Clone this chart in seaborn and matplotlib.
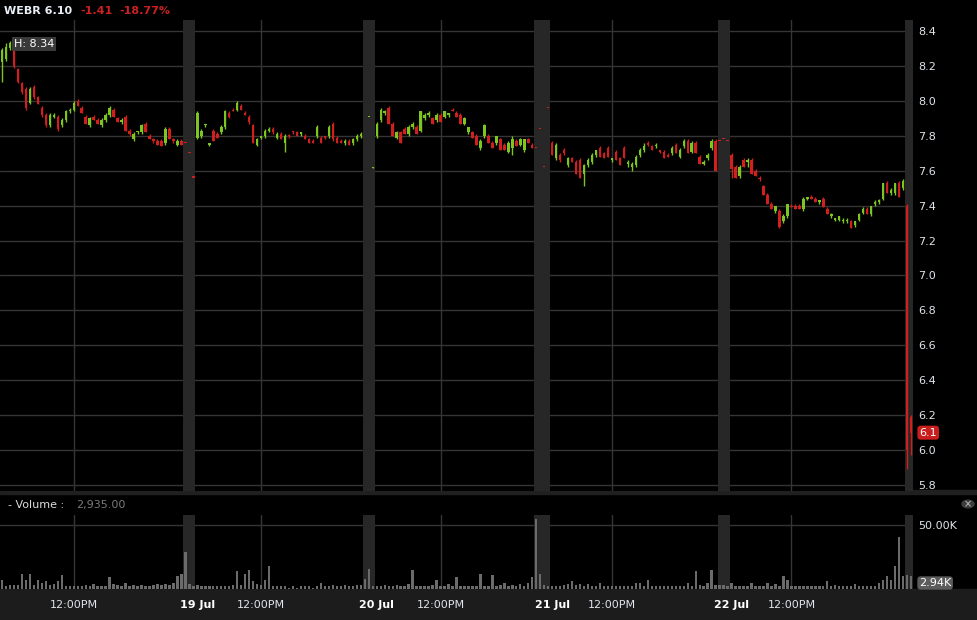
import numpy as np
import pandas as pd
import matplotlib
matplotlib.use("Agg")
import matplotlib.pyplot as plt
import matplotlib.transforms as mtrans
import seaborn as sns
from matplotlib.patches import Rectangle, Circle

# bars: (open, high, low, close); volume in thousands
jul18 = [(8.22, 8.30, 8.11, 8.29), (8.24, 8.33, 8.23, 8.31), (8.30, 8.34, 8.29, 8.33), (8.31, 8.32, 8.19, 8.20),
         (8.18, 8.19, 8.10, 8.11), (8.10, 8.11, 8.04, 8.05), (8.07, 8.08, 7.95, 7.96), (7.99, 8.08, 7.98, 8.07),
         (8.08, 8.09, 8.01, 8.02), (8.02, 8.03, 7.98, 7.98), (7.96, 7.97, 7.91, 7.92), (7.92, 7.93, 7.85, 7.86),
         (7.86, 7.93, 7.85, 7.92), (7.91, 7.93, 7.90, 7.92), (7.91, 7.92, 7.83, 7.84), (7.86, 7.90, 7.85, 7.89),
         (7.89, 7.95, 7.88, 7.94), (7.94, 7.96, 7.93, 7.95), (7.95, 8.00, 7.94, 7.99), (8.00, 8.01, 7.97, 7.97),
         (7.96, 7.97, 7.93, 7.93), (7.91, 7.92, 7.87, 7.87), (7.86, 7.91, 7.85, 7.90), (7.91, 7.92, 7.89, 7.89),
         (7.89, 7.90, 7.87, 7.87), (7.86, 7.90, 7.85, 7.89), (7.89, 7.93, 7.88, 7.92), (7.92, 7.97, 7.91, 7.96),
         (7.95, 7.96, 7.91, 7.91), (7.90, 7.91, 7.88, 7.88), (7.88, 7.90, 7.87, 7.89), (7.91, 7.92, 7.83, 7.83),
         (7.83, 7.84, 7.80, 7.81), (7.78, 7.82, 7.77, 7.81), (7.82, 7.83, 7.81, 7.83), (7.82, 7.87, 7.81, 7.86),
         (7.87, 7.88, 7.82, 7.82), (7.80, 7.81, 7.78, 7.78), (7.78, 7.79, 7.76, 7.77), (7.77, 7.78, 7.75, 7.75),
         (7.77, 7.78, 7.74, 7.74), (7.76, 7.85, 7.75, 7.84), (7.84, 7.85, 7.78, 7.78), (7.78, 7.79, 7.76, 7.77),
         (7.75, 7.78, 7.74, 7.77), (7.77, 7.78, 7.75, 7.75)]
vol18 = [7, 2, 3, 3, 3, 12, 7, 12, 3, 7, 5, 6, 3, 4, 6, 11, 2, 2, 2, 2, 2, 3, 2, 4, 2, 2, 2, 9, 4, 3,
         2, 5, 2, 3, 2, 3, 2, 2, 3, 4, 3, 4, 3, 5, 10, 12]

ext1 = [(7.76, 7.76, 7.76, 7.76), (7.70, 7.70, 7.70, 7.70), (7.56, 7.56, 7.56, 7.56)]
ext1_vol = [29, 4, 2]

jul19 = [(7.79, 7.94, 7.78, 7.93), (7.80, 7.84, 7.79, 7.83), (7.86, 7.87, 7.85, 7.87), (7.75, 7.76, 7.74, 7.76),
         (7.83, 7.84, 7.77, 7.77), (7.81, 7.82, 7.79, 7.79), (7.82, 7.86, 7.81, 7.85), (7.85, 7.95, 7.84, 7.94),
         (7.93, 7.94, 7.90, 7.91), (7.95, 7.96, 7.94, 7.94), (7.95, 8.00, 7.94, 7.99), (7.97, 7.98, 7.95, 7.95),
         (7.93, 7.94, 7.92, 7.92), (7.91, 7.92, 7.87, 7.88), (7.86, 7.87, 7.76, 7.76), (7.75, 7.79, 7.74, 7.78),
         (7.79, 7.80, 7.78, 7.80), (7.80, 7.84, 7.79, 7.83), (7.83, 7.85, 7.82, 7.84), (7.84, 7.85, 7.81, 7.82),
         (7.79, 7.82, 7.78, 7.81), (7.81, 7.82, 7.78, 7.78), (7.76, 7.81, 7.71, 7.80), (7.80, 7.81, 7.79, 7.80),
         (7.82, 7.83, 7.81, 7.82), (7.82, 7.83, 7.80, 7.80), (7.81, 7.82, 7.80, 7.82), (7.80, 7.81, 7.78, 7.78),
         (7.78, 7.79, 7.76, 7.76), (7.77, 7.78, 7.76, 7.76), (7.80, 7.86, 7.79, 7.85), (7.79, 7.80, 7.76, 7.76),
         (7.79, 7.80, 7.78, 7.79), (7.80, 7.86, 7.79, 7.85), (7.87, 7.88, 7.77, 7.78), (7.79, 7.80, 7.76, 7.76),
         (7.77, 7.78, 7.76, 7.76), (7.76, 7.78, 7.75, 7.77), (7.77, 7.78, 7.75, 7.75), (7.76, 7.79, 7.75, 7.78),
         (7.78, 7.81, 7.77, 7.80), (7.80, 7.82, 7.79, 7.81)]
vol19 = [3, 2, 2, 2, 2, 2, 2, 2, 2, 3, 14, 3, 12, 15, 6, 4, 3, 7, 18, 2, 2, 2, 2, 1, 2, 1, 2, 2, 2, 1,
         2, 5, 2, 2, 3, 2, 2, 3, 2, 2, 3, 3]

ext2 = [None, (7.905, 7.91, 7.905, 7.91), (7.615, 7.62, 7.615, 7.62)]
ext2_vol = [8, 16, 2]

jul20 = [(7.80, 7.88, 7.79, 7.87), (7.89, 7.96, 7.88, 7.95), (7.93, 7.95, 7.92, 7.94), (7.96, 7.97, 7.87, 7.87),
         (7.87, 7.88, 7.80, 7.80), (7.79, 7.83, 7.78, 7.82), (7.82, 7.83, 7.76, 7.76), (7.84, 7.85, 7.81, 7.81),
         (7.81, 7.86, 7.80, 7.85), (7.85, 7.88, 7.84, 7.87), (7.85, 7.86, 7.81, 7.81), (7.83, 7.94, 7.82, 7.94),
         (7.90, 7.93, 7.89, 7.92), (7.92, 7.94, 7.91, 7.93), (7.90, 7.91, 7.87, 7.87), (7.89, 7.93, 7.88, 7.92),
         (7.92, 7.93, 7.88, 7.88), (7.91, 7.94, 7.90, 7.94), (7.92, 7.93, 7.91, 7.93), (7.95, 7.96, 7.94, 7.94),
         (7.93, 7.94, 7.91, 7.91), (7.92, 7.93, 7.87, 7.87), (7.87, 7.91, 7.86, 7.90), (7.82, 7.85, 7.81, 7.85),
         (7.82, 7.83, 7.79, 7.79), (7.80, 7.81, 7.75, 7.75), (7.73, 7.78, 7.72, 7.77), (7.80, 7.87, 7.79, 7.86),
         (7.80, 7.81, 7.76, 7.76), (7.76, 7.77, 7.73, 7.73), (7.76, 7.80, 7.75, 7.80), (7.78, 7.79, 7.72, 7.72),
         (7.75, 7.76, 7.72, 7.72), (7.71, 7.77, 7.70, 7.76), (7.73, 7.80, 7.69, 7.78), (7.77, 7.78, 7.74, 7.74),
         (7.75, 7.79, 7.74, 7.78), (7.72, 7.78, 7.71, 7.78), (7.78, 7.79, 7.76, 7.76), (7.75, 7.76, 7.73, 7.73)]
vol20 = [2, 2, 3, 2, 2, 3, 2, 2, 4, 15, 2, 2, 2, 2, 3, 7, 2, 2, 4, 2, 9, 2, 2, 2, 2, 2, 12, 2, 2, 11,
         2, 3, 5, 2, 3, 2, 4, 2, 5, 9]

ext3 = [(7.73, 7.73, 7.73, 7.73), (7.84, 7.84, 7.84, 7.84), (7.62, 7.62, 7.62, 7.62), (7.96, 7.96, 7.96, 7.96)]
ext3_vol = [55, 12, 3, 2]

jul21 = [(7.76, 7.77, 7.69, 7.69), (7.67, 7.76, 7.66, 7.75), (7.69, 7.70, 7.65, 7.66), (7.72, 7.73, 7.69, 7.70),
         (7.63, 7.68, 7.62, 7.67), (7.67, 7.68, 7.65, 7.65), (7.65, 7.66, 7.58, 7.58), (7.66, 7.67, 7.56, 7.56),
         (7.58, 7.64, 7.51, 7.63), (7.63, 7.67, 7.62, 7.66), (7.65, 7.70, 7.64, 7.69), (7.69, 7.72, 7.68, 7.72),
         (7.73, 7.74, 7.68, 7.68), (7.70, 7.71, 7.67, 7.67), (7.73, 7.74, 7.68, 7.68), (7.66, 7.67, 7.65, 7.67),
         (7.71, 7.72, 7.66, 7.66), (7.67, 7.68, 7.63, 7.63), (7.73, 7.74, 7.67, 7.67), (7.64, 7.66, 7.62, 7.65),
         (7.62, 7.65, 7.60, 7.64), (7.63, 7.69, 7.62, 7.68), (7.69, 7.73, 7.68, 7.72), (7.72, 7.76, 7.71, 7.74),
         (7.76, 7.77, 7.74, 7.75), (7.74, 7.75, 7.72, 7.72), (7.74, 7.76, 7.73, 7.75), (7.71, 7.72, 7.70, 7.71),
         (7.71, 7.72, 7.67, 7.67), (7.69, 7.70, 7.68, 7.68), (7.70, 7.74, 7.69, 7.73), (7.75, 7.76, 7.70, 7.70),
         (7.68, 7.73, 7.67, 7.72), (7.74, 7.78, 7.73, 7.77), (7.77, 7.78, 7.70, 7.70), (7.71, 7.77, 7.70, 7.76),
         (7.76, 7.77, 7.70, 7.70), (7.68, 7.69, 7.64, 7.64), (7.64, 7.66, 7.63, 7.65), (7.67, 7.70, 7.66, 7.69),
         (7.73, 7.78, 7.72, 7.77), (7.77, 7.78, 7.60, 7.60)]
vol21 = [2, 2, 2, 3, 4, 6, 3, 4, 2, 4, 2, 2, 5, 2, 2, 2, 2, 2, 2, 2, 2, 5, 5, 2, 7, 2, 2, 2, 2, 2,
         2, 2, 2, 2, 5, 2, 14, 3, 2, 5, 15, 3]

ext4 = [(7.77, 7.77, 7.77, 7.77), (7.78, 7.78, 7.78, 7.78), (7.77, 7.77, 7.77, 7.77)]
ext4_vol = [3, 3, 2]

jul22 = [(7.69, 7.70, 7.56, 7.61), (7.62, 7.63, 7.56, 7.56), (7.57, 7.63, 7.56, 7.62), (7.66, 7.67, 7.62, 7.62),
         (7.65, 7.67, 7.62, 7.66), (7.66, 7.67, 7.58, 7.58), (7.60, 7.61, 7.57, 7.57), (7.56, 7.57, 7.54, 7.55),
         (7.51, 7.52, 7.46, 7.46), (7.46, 7.47, 7.41, 7.41), (7.41, 7.42, 7.38, 7.38), (7.37, 7.40, 7.36, 7.40),
         (7.37, 7.38, 7.27, 7.28), (7.31, 7.35, 7.30, 7.34), (7.34, 7.41, 7.33, 7.41), (7.40, 7.41, 7.39, 7.39),
         (7.40, 7.41, 7.38, 7.38), (7.40, 7.41, 7.38, 7.38), (7.38, 7.45, 7.37, 7.44), (7.44, 7.45, 7.43, 7.45),
         (7.45, 7.46, 7.44, 7.44), (7.44, 7.45, 7.42, 7.42), (7.42, 7.43, 7.41, 7.43), (7.44, 7.45, 7.39, 7.39),
         (7.38, 7.39, 7.35, 7.35), (7.34, 7.36, 7.33, 7.35), (7.32, 7.33, 7.31, 7.33), (7.32, 7.34, 7.31, 7.34),
         (7.31, 7.33, 7.30, 7.32), (7.31, 7.33, 7.30, 7.32), (7.31, 7.32, 7.27, 7.27), (7.29, 7.31, 7.28, 7.31),
         (7.32, 7.36, 7.31, 7.35), (7.36, 7.39, 7.35, 7.38), (7.38, 7.39, 7.35, 7.35), (7.35, 7.40, 7.34, 7.40),
         (7.41, 7.43, 7.40, 7.42), (7.42, 7.44, 7.41, 7.43), (7.44, 7.53, 7.43, 7.53), (7.53, 7.54, 7.47, 7.47),
         (7.47, 7.50, 7.46, 7.49), (7.47, 7.53, 7.46, 7.53), (7.53, 7.54, 7.45, 7.45), (7.50, 7.55, 7.49, 7.54)]
vol22 = [5, 2, 2, 2, 2, 5, 2, 2, 2, 5, 2, 4, 2, 10, 7, 2, 2, 2, 2, 2, 2, 2, 2, 2, 6, 2, 3, 2, 2, 2,
         2, 4, 2, 2, 2, 2, 2, 5, 7, 10, 7, 18, 41, 10]

ext5 = [(7.40, 7.41, 5.89, 6.00), (6.19, 6.20, 5.97, 6.10)]
ext5_vol = [11, 10]

day_labels = ["", "19 Jul", "20 Jul", "21 Jul", "22 Jul"]
noon_offset = [18, 16, 16, 15, 15]
price_ticks = [5.8, 6.0, 6.2, 6.4, 6.6, 6.8, 7.0, 7.2, 7.4, 7.6, 7.8, 8.0, 8.2, 8.4]

GREEN = "#7cc61f"
RED = "#d01f1f"
GRID = "#353535"
SHADE = "#272727"
TXT = "#dfe5ec"

parts = [(jul18, vol18, "reg"), (ext1, ext1_vol, "ext"), (jul19, vol19, "reg"), (ext2, ext2_vol, "ext"),
         (jul20, vol20, "reg"), (ext3, ext3_vol, "ext"), (jul21, vol21, "reg"), (ext4, ext4_vol, "ext"),
         (jul22, vol22, "reg"), (ext5, ext5_vol, "ext")]
rows = []
pos = 0
for k, (bars, vols, kind) in enumerate(parts):
    for b, v in zip(bars, vols):
        o, h, l, c = b if b is not None else (np.nan,) * 4
        rows.append(dict(pos=pos, o=o, h=h, l=l, c=c, vol=v, part=k, kind=kind))
        pos += 1
df = pd.DataFrame(rows)
n = len(df)

sns.set_theme(style="dark", rc={"axes.facecolor": "black", "figure.facecolor": "black"})
plt.rcParams["font.family"] = ["DejaVu Sans"]

W, H = 977, 620
def rect(x0, y0, x1, y1):
    return [x0 / W, 1 - y1 / H, (x1 - x0) / W, (y1 - y0) / H]

fig = plt.figure(figsize=(W / 100, H / 100), dpi=100, facecolor="black")
fig.patches.append(Rectangle((0, 0), 1, 1 - 589 / H, transform=fig.transFigure, color="#1c1c1c", zorder=-1))
fig.patches.append(Rectangle((0, 1 - 494 / H), 1, 4 / H, transform=fig.transFigure, color="#202020", zorder=-1))

ax = fig.add_axes(rect(0, 20, 913, 491))
axv = fig.add_axes(rect(0, 515, 913, 589))

# extended-hours shading and noon grid lines
for k, g in df[df.kind == "ext"].groupby("part"):
    for a in (ax, axv):
        a.axvspan(g.pos.min() - 0.5, g.pos.max() + 0.5, color=SHADE, lw=0, zorder=1)
starts = df[df.kind == "reg"].groupby("part").pos.min().values
noons = starts + np.array(noon_offset)
for a in (ax, axv):
    for x in noons:
        a.axvline(x, color=GRID, lw=1, zorder=0.5)

# candles
cd = df.dropna(subset=["o"])
col = np.where(cd.c > cd.o, GREEN, RED)
ax.vlines(cd.pos, cd.l, cd.h, colors=col, lw=1, zorder=3)
ax.bar(cd.pos, np.maximum((cd.c - cd.o).abs(), 0.007), bottom=np.minimum(cd.o, cd.c),
       width=0.62, color=col, linewidth=0, zorder=4)

ax.set_xlim(-0.5, n - 0.5)
ax.set_ylim(5.766, 8.463)
ax.set_yticks(price_ticks)
ax.set_yticklabels([f"{v:.1f}" for v in price_ticks])
ax.yaxis.tick_right()
ax.tick_params(axis="y", length=0, pad=4, labelsize=8, labelcolor=TXT)
ax.tick_params(axis="x", bottom=False, labelbottom=False)
ax.set_axisbelow(True)
ax.grid(axis="y", color=GRID, lw=1)
ax.grid(axis="x", visible=False)
for s in ax.spines.values():
    s.set_visible(False)

# volume
sns.barplot(data=df, x="pos", y="vol", native_scale=True, color="#6b6b6b", saturation=1,
            width=0.6, errorbar=None, ax=axv, zorder=3, linewidth=0)
axv.set_xlim(-0.5, n - 0.5)
axv.set_ylim(0, 57.8)
axv.axhline(50, color=GRID, lw=1, zorder=0.5)
axv.set_yticks([50])
axv.set_yticklabels(["50.00K"])
axv.yaxis.tick_right()
axv.tick_params(axis="y", length=0, pad=4, labelsize=8, labelcolor=TXT)
axv.set_xlabel("")
axv.set_ylabel("")
axv.grid(False)
for s in axv.spines.values():
    s.set_visible(False)

tick_pos = []
tick_lab = []
for i, (st, nn) in enumerate(zip(starts, noons)):
    if day_labels[i]:
        tick_pos.append(st)
        tick_lab.append(day_labels[i])
    tick_pos.append(nn)
    tick_lab.append("12:00PM")
axv.set_xticks(tick_pos)
axv.set_xticklabels(tick_lab)
axv.tick_params(axis="x", length=0, pad=8, labelsize=8, labelcolor=TXT)
for t in axv.get_xticklabels():
    if "Jul" in t.get_text():
        t.set_fontweight("bold")
        t.set_color("white")

# labels / badges
bt = mtrans.blended_transform_factory(ax.transAxes, ax.transData)
ax.text(1.007, 6.10, "6.1", transform=bt, ha="left", va="center", color="white", fontsize=8,
        bbox=dict(boxstyle="round,pad=0.18,rounding_size=0.3", fc="#c81e1e", ec="none"), zorder=6)
fig.text(919 / W, 1 - 583 / H, "2.94K", ha="left", va="center", color="white", fontsize=8,
         bbox=dict(boxstyle="round,pad=0.15,rounding_size=0.3", fc="#5c5c5c", ec="none"))
fig.text(14 / W, 1 - 44 / H, "H: 8.34", ha="left", va="center", color="white", fontsize=8,
         bbox=dict(boxstyle="square,pad=0.18", fc="#3a3a3a", ec="none"))

fig.text(4 / W, 1 - 11 / H, "WEBR 6.10", ha="left", va="center", color="#e8eef5", fontsize=8, fontweight="bold")
fig.text(80 / W, 1 - 11 / H, "-1.41", ha="left", va="center", color="#cc2121", fontsize=8, fontweight="bold")
fig.text(119 / W, 1 - 11 / H, "-18.77%", ha="left", va="center", color="#cc2121", fontsize=8, fontweight="bold")

fig.text(8 / W, 1 - 505 / H, "- Volume :", ha="left", va="center", color="#dcdcdc", fontsize=8)
fig.text(76 / W, 1 - 505 / H, "2,935.00", ha="left", va="center", color="#7a7a7a", fontsize=8)
fig.patches.append(Circle((968 / W, 1 - 504 / H), 6 / W, transform=fig.transFigure, color="#3e3e3e", zorder=2))
fig.text(968 / W, 1 - 504 / H, "×", ha="center", va="center", color="#c8c8c8", fontsize=7)

fig.savefig("out.png", dpi=100, facecolor="black")
